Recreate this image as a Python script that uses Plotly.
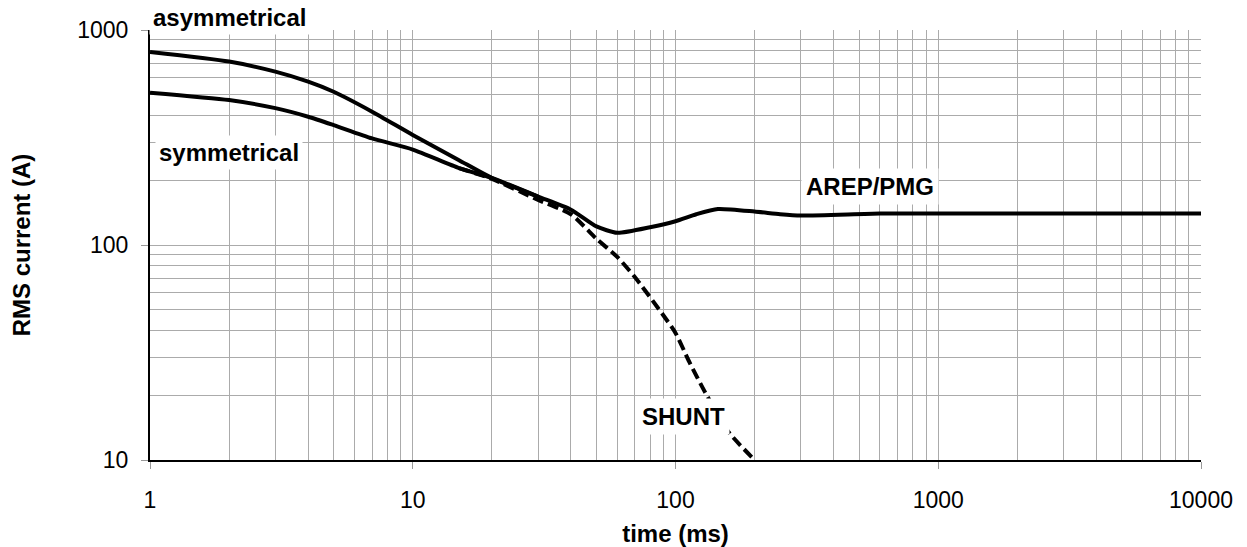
import numpy as np
import plotly.graph_objects as go

# ---- data ----
t_asym = [1, 2, 3, 4, 5, 7, 10, 15, 20, 30, 40, 50, 60, 80, 100, 120, 145, 200, 250, 300, 600, 1000, 10000]
i_asym = [790, 713, 640, 575, 516, 417, 325, 248, 205, 168, 146, 122, 114, 121, 129, 139, 147, 143, 139, 137, 140, 140, 140]

t_sym = [1, 2, 3, 4, 5, 7, 10, 15, 20, 30]
i_sym = [511, 472, 433, 395, 361, 313, 278, 228, 205, 168]

t_shunt = [15, 20, 30, 40, 50, 60, 70, 90, 100, 113, 130, 160, 200]
i_shunt = [228, 203, 162, 139, 107, 88, 71, 47, 39, 28.5, 20.5, 13.4, 10]

x_ticks = [1, 10, 100, 1000, 10000]
y_ticks = [10, 100, 1000]

FONT = "Liberation Sans, Arial, sans-serif"

fig = go.Figure()
fig.add_trace(go.Scatter(x=t_sym, y=i_sym, mode="lines",
                         line=dict(color="black", width=4, shape="spline", smoothing=0.6),
                         showlegend=False))
fig.add_trace(go.Scatter(x=t_asym, y=i_asym, mode="lines",
                         line=dict(color="black", width=4, shape="spline", smoothing=0.6),
                         showlegend=False))
fig.add_trace(go.Scatter(x=t_shunt, y=i_shunt, mode="lines",
                         line=dict(color="black", width=4, dash="11px,5px", shape="spline", smoothing=0.6),
                         showlegend=False))

lab_font = dict(family=FONT, size=24, color="black")
fig.add_annotation(x=np.log10(2.0), y=1.028, yref="paper", yanchor="middle",
                   text="<b>asymmetrical</b>",
                   showarrow=False, bgcolor="white", borderpad=3, font=lab_font)
fig.add_annotation(x=np.log10(2.0), y=np.log10(270), text="<b>symmetrical</b>",
                   showarrow=False, bgcolor="white", borderpad=3, font=lab_font)
fig.add_annotation(x=np.log10(551), y=np.log10(188), text="<b>AREP/PMG</b>",
                   showarrow=False, bgcolor="white", borderpad=4, font=lab_font)
fig.add_annotation(x=np.log10(107), y=np.log10(16.0), text="<b>SHUNT</b>",
                   showarrow=False, bgcolor="white", borderpad=4, font=lab_font)

grid = "#ababab"
tick_font = dict(family=FONT, size=23, color="black")
title_font = dict(family=FONT, size=24, color="black")
fig.update_xaxes(type="log", range=[0, 4], tickvals=x_ticks,
                 ticktext=[str(v) for v in x_ticks],
                 showgrid=True, gridcolor=grid, gridwidth=1,
                 minor=dict(dtick="D1", showgrid=True, gridcolor=grid, gridwidth=1, ticks=""),
                 showline=True, linecolor="black", linewidth=2,
                 ticks="outside", ticklen=7, tickcolor="#999999",
                 ticklabelstandoff=11, automargin=False,
                 zeroline=False, tickfont=tick_font,
                 title=dict(text="<b>time (ms)</b>", font=title_font, standoff=15))
fig.update_yaxes(type="log", range=[1, 3], tickvals=y_ticks,
                 ticktext=[str(v) for v in y_ticks],
                 showgrid=True, gridcolor=grid, gridwidth=1,
                 minor=dict(dtick="D1", showgrid=True, gridcolor=grid, gridwidth=1, ticks=""),
                 showline=True, linecolor="black", linewidth=2,
                 ticks="outside", ticklen=7, tickcolor="#999999",
                 ticklabelstandoff=8, automargin=False,
                 zeroline=False, tickfont=tick_font,
                 title=dict(text="<b>RMS current (A)</b>", font=title_font, standoff=40))

fig.update_layout(width=1247, height=547,
                  margin=dict(l=150, r=46, t=30, b=87),
                  plot_bgcolor="white", paper_bgcolor="white",
                  showlegend=False)

fig.write_html("out.html")
